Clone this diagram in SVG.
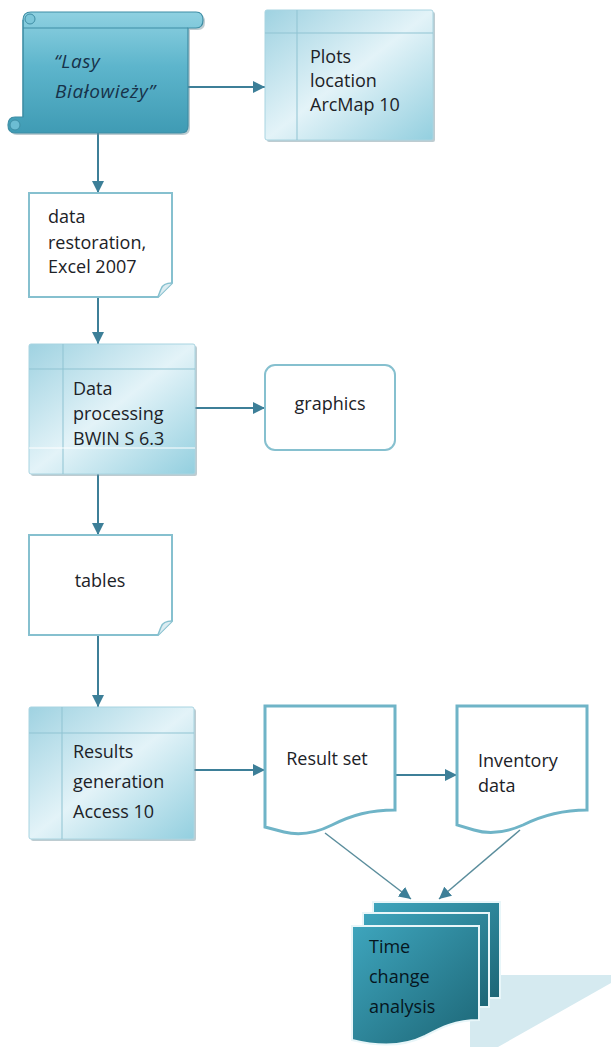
<svg xmlns="http://www.w3.org/2000/svg" width="611" height="1047" viewBox="0 0 611 1047">
<defs>
<linearGradient id="gScroll" x1="0" y1="0" x2="0" y2="1">
<stop offset="0" stop-color="#8fd1e1"/>
<stop offset="0.45" stop-color="#5db5cc"/>
<stop offset="1" stop-color="#3f9bb4"/>
</linearGradient>
<linearGradient id="gProc" x1="0" y1="0" x2="1" y2="1">
<stop offset="0" stop-color="#9fd2e1"/>
<stop offset="0.5" stop-color="#e3f3f8"/>
<stop offset="1" stop-color="#93cfdf"/>
</linearGradient>
<linearGradient id="gPage" x1="0" y1="0" x2="1" y2="1">
<stop offset="0" stop-color="#3ea5bd"/>
<stop offset="1" stop-color="#1d6676"/>
</linearGradient>
<marker id="ah" viewBox="0 0 10 10" refX="10" refY="5" markerWidth="12" markerHeight="12" markerUnits="userSpaceOnUse" orient="auto">
<path d="M0,0 L10,5 L0,10 Z" fill="#3d7f98"/>
</marker>
<style>
.t{font-family:"Open Sans","Liberation Sans",sans-serif;font-size:18px;fill:#1c2227}
.ti{font-family:"Open Sans","Liberation Sans",sans-serif;font-size:19px;font-style:italic;fill:#17324a;letter-spacing:0.6px}
.tp{font-family:"Open Sans","Liberation Sans",sans-serif;font-size:18px;fill:#06161e;stroke:none}
.proc{fill:url(#gProc);stroke:#a8d4e1;stroke-width:1}
.inner{stroke:#8fc3d2;stroke-width:1;fill:none}
.doc{fill:#ffffff;stroke:#86c0cf;stroke-width:2}
.wdoc{fill:#ffffff;stroke:#6fb4c7;stroke-width:3}
.shadow{fill:#6f8e99;opacity:0.45}
.c{stroke:#3d7f98;stroke-width:2;fill:none;marker-end:url(#ah)}
.cd{stroke:#5a8d9c;stroke-width:1.5;fill:none;marker-end:url(#ah)}
.page{fill:url(#gPage);stroke:#e8f6f9;stroke-width:2}
</style>
</defs>

<g id="connectors">
<line class="c" x1="188" y1="87" x2="265" y2="87"/>
<line class="c" x1="98" y1="133" x2="98" y2="193"/>
<line class="c" x1="98" y1="297" x2="98" y2="344"/>
<line class="c" x1="195" y1="408" x2="265" y2="408"/>
<line class="c" x1="98" y1="474" x2="98" y2="535"/>
<line class="c" x1="98" y1="635" x2="98" y2="707"/>
<line class="c" x1="194" y1="770" x2="265" y2="770"/>
<line class="c" x1="395" y1="775" x2="457" y2="775"/>
<line class="cd" x1="325" y1="833" x2="411" y2="899"/>
<line class="cd" x1="520" y1="830" x2="439" y2="899"/>
</g>

<g id="node-lasy">
<path class="shadow" d="M25,22 Q25,14 33,14 L198,14 Q205,14 205,22 Q205,30 198,30 L190,30 L190,128 Q190,135 183,135 L17,135 Q10,135 10,127 Q10,119 17,119 L25,119 Z"/>
<path d="M23,20 Q23,12 31,12 L196,12 Q203,12 203,20 Q203,28 196,28 L188,28 L188,126 Q188,133 181,133 L15,133 Q8,133 8,125 Q8,117 15,117 L23,117 Z" fill="url(#gScroll)" stroke="#3f8ea5" stroke-width="1.2"/>
<path d="M23,28 L188,28" stroke="#3f8ea5" stroke-width="1.2" fill="none"/>
<path d="M23,20 L23,117" stroke="#3f8ea5" stroke-width="1" fill="none"/>
<circle cx="30" cy="19" r="5" fill="#7cc6d9" stroke="#3f8ea5" stroke-width="1"/>
<circle cx="15" cy="125" r="5" fill="#6cbdd3" stroke="#3f8ea5" stroke-width="1"/>
<text class="ti" x="54" y="68">“Lasy</text>
<text class="ti" x="55" y="98">Białowieży”</text>
</g>

<g id="node-plots">
<rect x="267" y="12" width="168" height="130" rx="2" class="shadow"/>
<rect x="265" y="10" width="168" height="130" rx="2" class="proc"/>
<line class="inner" x1="297" y1="10" x2="297" y2="140"/>
<line class="inner" x1="265" y1="33" x2="433" y2="33"/>
<text class="t" x="310" y="63">Plots</text>
<text class="t" x="310" y="87">location</text>
<text class="t" x="310" y="111">ArcMap 10</text>
</g>

<g id="node-restoration">
<path class="doc" d="M29,193 H172 V283 L158,297 H29 Z"/>
<path d="M172,283 Q163,283 161,289 Q159,294 158,297" fill="#dcecf1" stroke="#86c0cf" stroke-width="1.5"/>
<text class="t" x="48" y="223">data</text>
<text class="t" x="48" y="249">restoration,</text>
<text class="t" x="48" y="273">Excel 2007</text>
</g>

<g id="node-processing">
<rect x="31" y="346" width="166" height="130" rx="2" class="shadow"/>
<rect x="29" y="344" width="166" height="130" rx="2" class="proc"/>
<line class="inner" x1="63" y1="344" x2="63" y2="474"/>
<line class="inner" x1="29" y1="369" x2="195" y2="369"/>
<line x1="29" y1="448" x2="195" y2="448" stroke="#ffffff" stroke-width="1"/>
<text class="t" x="73" y="395">Data</text>
<text class="t" x="73" y="420">processing</text>
<text class="t" x="73" y="445">BWIN S 6.3</text>
</g>

<g id="node-graphics">
<rect class="doc" x="265" y="365" width="130" height="85" rx="10"/>
<text class="t" x="330" y="410" text-anchor="middle">graphics</text>
</g>

<g id="node-tables">
<path class="doc" d="M29,535 H172 V621 L158,635 H29 Z"/>
<path d="M172,621 Q163,621 161,627 Q159,632 158,635" fill="#dcecf1" stroke="#86c0cf" stroke-width="1.5"/>
<text class="t" x="100" y="587" text-anchor="middle">tables</text>
</g>

<g id="node-results">
<rect x="31" y="709" width="165" height="132" rx="2" class="shadow"/>
<rect x="29" y="707" width="165" height="132" rx="2" class="proc"/>
<line class="inner" x1="62" y1="707" x2="62" y2="839"/>
<line class="inner" x1="29" y1="733" x2="194" y2="733"/>
<text class="t" x="73" y="758">Results</text>
<text class="t" x="73" y="788">generation</text>
<text class="t" x="73" y="818">Access 10</text>
</g>

<g id="node-resultset">
<path class="wdoc" d="M265,706 H395 V810 C370,810 352,815 332,825 C316,833 300,836 284,832 L265,827 Z"/>
<text class="t" x="327" y="765" text-anchor="middle">Result set</text>
</g>

<g id="node-inventory">
<path class="wdoc" d="M457,706 H587 V810 C562,810 543,815 523,825 C507,832 490,835 474,830 L457,825 Z"/>
<text class="t" x="478" y="767">Inventory</text>
<text class="t" x="478" y="792">data</text>
</g>

<g id="node-time">
<polygon points="470,975 611,975 611,983 498,1047 470,1047" fill="#d5eaf0"/>
<rect class="page" x="373" y="902" width="127" height="96"/>
<rect class="page" x="363" y="913" width="126" height="94"/>
<path class="page" d="M352,926 H479 V1020 C455,1020 440,1028 425,1036 C405,1046 380,1047 352,1040 Z"/>
<text class="tp" x="369" y="953">Time</text>
<text class="tp" x="369" y="983">change</text>
<text class="tp" x="369" y="1013">analysis</text>
</g>
</svg>
